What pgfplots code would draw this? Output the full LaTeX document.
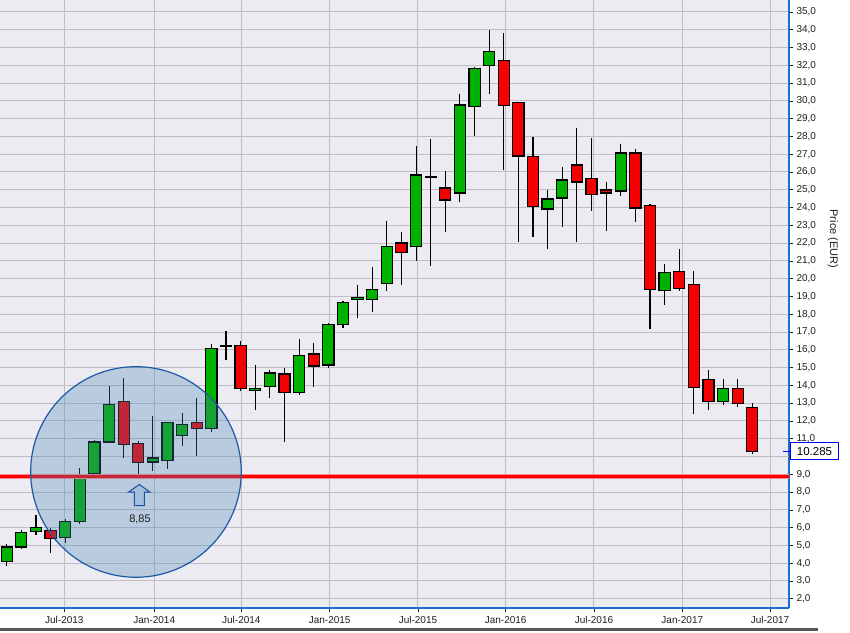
\documentclass[border=0pt]{standalone}
\usepackage{fontspec}
\setmainfont{Liberation Sans}
\usepackage{pgfplots}
\pgfplotsset{compat=1.18}
\definecolor{bgcol}{RGB}{235,235,241}
\definecolor{gridcol}{RGB}{190,190,194}
\definecolor{axblue}{RGB}{25,110,205}
\definecolor{cgreen}{RGB}{0,178,0}
\definecolor{cred}{RGB}{245,0,0}
\definecolor{circfill}{RGB}{70,130,180}
\definecolor{circedge}{RGB}{30,90,165}
\definecolor{arrowfill}{RGB}{165,190,220}
\definecolor{arrowedge}{RGB}{30,80,160}
\definecolor{txt}{RGB}{30,30,30}

\newcommand{\candle}[6]{%
  \pgfmathsetmacro{\xl}{#1-0.38}%
  \pgfmathsetmacro{\xr}{#1+0.38}%
  \edef\temp{\noexpand\addplot[draw=black, line width=1.1pt, forget plot] coordinates {(#1,#3) (#1,#4)};%
  \noexpand\addplot[draw=black, line width=1.2pt, line join=miter, fill=#6, forget plot] coordinates {(\xl,#2) (\xr,#2) (\xr,#5) (\xl,#5)} --cycle;}%
  \temp
}

\begin{document}
\begin{tikzpicture}
\useasboundingbox (0pt,0pt) rectangle (850pt,632pt);
\begin{axis}[
  at={(0pt,24pt)}, anchor=south west,
  width=789pt, height=608pt, scale only axis,
  xmin=1.54, xmax=55.51, ymin=1.48, ymax=35.67,
  axis x line*=bottom, axis y line*=right,
  axis line style={draw=axblue, line width=1.3pt},
  axis background/.style={fill=bgcol},
  grid=major, major grid style={draw=gridcol, line width=1pt},
  xtick={5.94,12.09,18.05,24.09,30.13,36.13,42.17,48.21,54.21},
  xticklabels={Jul-2013,Jan-2014,Jul-2014,Jan-2015,Jul-2015,Jan-2016,Jul-2016,Jan-2017,Jul-2017},
  ytick={2,3,4,5,6,7,8,9,11,12,13,14,15,16,17,18,19,20,21,22,23,24,25,26,27,28,29,30,31,32,33,34,35},
  extra y ticks={10}, extra y tick labels={},
  extra y tick style={grid=major},
  tick align=outside, major tick length=4pt,
  tick style={draw=txt, line width=0.6pt},
  ticklabel style={font=\fontsize{10}{12}\selectfont, text=txt},
  yticklabel style={/pgf/number format/.cd, fixed, fixed zerofill, precision=1, use comma, assume math mode=true},
  xticklabel style={yshift=-1pt},
]
\candle{2}{4.11}{5.09}{3.83}{4.91}{cgreen}
\candle{3}{4.91}{5.85}{4.81}{5.74}{cgreen}
\candle{4}{5.80}{6.71}{5.56}{6.02}{cgreen}
\candle{5}{5.85}{6.00}{4.55}{5.41}{cred}
\candle{6}{5.46}{6.47}{5.11}{6.35}{cgreen}
\candle{7}{6.34}{9.38}{6.22}{8.78}{cgreen}
\candle{8}{9.06}{10.92}{8.93}{10.81}{cgreen}
\candle{9}{10.81}{13.94}{10.81}{12.92}{cgreen}
\candle{10}{13.09}{14.39}{9.90}{10.68}{cred}
\candle{11}{10.75}{10.88}{8.97}{9.64}{cred}
\candle{12}{9.69}{12.27}{9.17}{9.92}{cgreen}
\candle{13}{9.79}{11.95}{9.27}{11.91}{cgreen}
\candle{14}{11.17}{12.43}{10.61}{11.80}{cgreen}
\candle{15}{11.91}{13.27}{10.05}{11.58}{cred}
\candle{16}{11.58}{16.33}{11.39}{16.09}{cgreen}
\candle{17}{16.20}{17.06}{15.41}{16.24}{black}
\candle{18}{16.26}{16.50}{13.68}{13.81}{cred}
\candle{19}{13.70}{15.16}{12.62}{13.81}{cgreen}
\candle{20}{13.92}{14.88}{13.29}{14.70}{cgreen}
\candle{21}{14.64}{15.00}{10.80}{13.58}{cred}
\candle{22}{13.58}{16.61}{13.45}{15.70}{cgreen}
\candle{23}{15.76}{16.39}{13.90}{15.09}{cred}
\candle{24}{15.15}{17.50}{15.00}{17.40}{cgreen}
\candle{25}{17.40}{18.73}{17.20}{18.68}{cgreen}
\candle{26}{18.85}{19.65}{17.81}{18.96}{cgreen}
\candle{27}{18.85}{20.67}{18.15}{19.41}{cgreen}
\candle{28}{19.75}{23.26}{19.28}{21.83}{cgreen}
\candle{29}{22.00}{22.64}{19.67}{21.49}{cred}
\candle{30}{21.83}{27.48}{21.02}{25.83}{cgreen}
\candle{31}{25.70}{27.88}{20.69}{25.74}{black}
\candle{32}{25.10}{26.08}{22.60}{24.42}{cred}
\candle{33}{24.82}{30.41}{24.29}{29.77}{cgreen}
\candle{34}{29.66}{31.93}{28.01}{31.80}{cgreen}
\candle{35}{31.97}{33.96}{30.38}{32.76}{cgreen}
\candle{36}{32.25}{33.79}{26.09}{29.72}{cred}
\candle{37}{29.89}{29.96}{22.04}{26.90}{cred}
\candle{38}{26.85}{27.99}{22.32}{24.08}{cred}
\candle{39}{23.92}{25.00}{21.64}{24.48}{cgreen}
\candle{40}{24.54}{26.30}{22.88}{25.55}{cgreen}
\candle{41}{26.39}{28.50}{22.04}{25.44}{cred}
\candle{42}{25.61}{27.93}{23.78}{24.72}{cred}
\candle{43}{24.99}{25.46}{22.66}{24.82}{cred}
\candle{44}{24.93}{27.60}{24.63}{27.07}{cgreen}
\candle{45}{27.07}{27.31}{23.16}{23.97}{cred}
\candle{46}{24.10}{24.22}{17.18}{19.39}{cred}
\candle{47}{19.33}{20.81}{18.52}{20.34}{cgreen}
\candle{48}{20.40}{21.65}{19.31}{19.44}{cred}
\candle{49}{19.67}{20.42}{12.40}{13.88}{cred}
\candle{50}{14.33}{14.85}{12.63}{13.09}{cred}
\candle{51}{13.09}{14.35}{12.91}{13.82}{cgreen}
\candle{52}{13.82}{14.35}{12.79}{13.00}{cred}
\candle{53}{12.76}{12.98}{10.15}{10.285}{cred}
% support line at 8.85
\addplot[draw=red!45, line width=5pt, forget plot] coordinates {(1.54,8.85) (55.51,8.85)};
\addplot[draw=red, line width=3pt, forget plot] coordinates {(1.54,8.85) (55.51,8.85)};
% highlight circle
\draw[circedge, line width=1.2pt, fill=circfill, fill opacity=0.3] (axis cs:10.84,9.13) circle[radius=105.3pt];
\end{axis}
% arrow and label
\draw[arrowedge, line width=1pt, fill=arrowfill, line join=miter]
  (134.3pt,126.3pt) -- (134.3pt,140pt) -- (128.8pt,140pt) -- (139.3pt,147.5pt) -- (149.8pt,140pt) -- (144.3pt,140pt) -- (144.3pt,126.3pt) -- cycle;
\node[font=\fontsize{11}{13}\selectfont, text=txt] at (140pt,113pt) {8,85};
% last price box
\draw[blue, line width=1pt] (783pt,180.6pt) -- (790pt,180.6pt);
\node[draw=blue, fill=white, line width=1pt, anchor=west, minimum width=48pt, minimum height=17pt, inner sep=1pt, font=\fontsize{11.5}{13}\selectfont, text=black] at (790pt,180.6pt) {10.285};
% axis title
\node[rotate=-90, font=\fontsize{11}{13}\selectfont, text=txt] at (833pt,393pt) {Price (EUR)};
% bottom frame line
\draw[line width=3pt, black!65] (0pt,3pt) -- (818pt,3pt);
\end{tikzpicture}
\end{document}
